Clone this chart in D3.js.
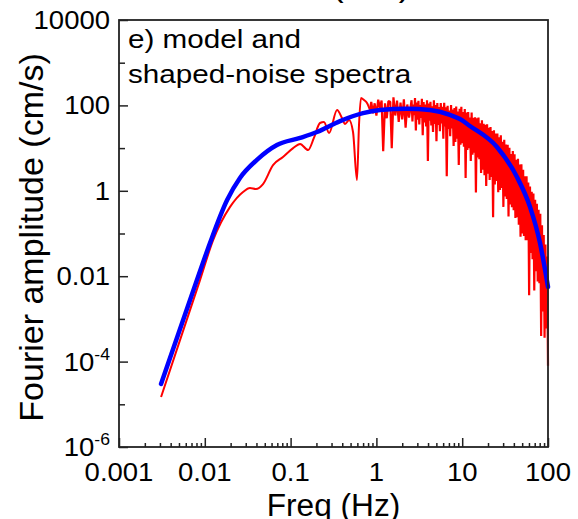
<!DOCTYPE html>
<html>
<head>
<meta charset="utf-8">
<script src="https://cdn.jsdelivr.net/npm/d3@7"></script>
<style>
  body { margin: 0; background: #fff; }
  text { font-family: Arial, "Liberation Sans", sans-serif; fill: #000; }
</style>
</head>
<body>
<div id="chart"></div>
<script>
// axes
const xDomain = [0.001, 100];
const yDomain = [1e-6, 1e4];
const xTickValues = [0.001, 0.01, 0.1, 1, 10, 100];
const xTickLabels = ["0.001", "0.01", "0.1", "1", "10", "100"];
const yTickValues = [1e4, 100, 1, 0.01, 1e-4, 1e-6];
const yTickBase = ["10000", "100", "1", "0.01", "10", "10"];
const yTickExp = ["", "", "", "", "-4", "-6"];
const yMinorValues = [1e3, 10, 0.1, 1e-3, 1e-5];

// model spectrum (blue)
const modelFreq = [0.00309, 0.0081, 0.0115, 0.0182, 0.0257, 0.0405, 0.0693, 0.129, 0.203, 0.377,
  0.698, 1.10, 2.27, 4.21, 7.21, 9.42, 12.3, 25.4, 43.5, 61.7, 80.7, 100];
const modelAmp = [3.0e-5, 8.1e-3, 0.060, 0.61, 2.0, 5.3, 11.8, 17.3, 23.8, 43,
  66, 78, 84, 78, 60, 48, 33, 10.6, 2.1, 0.42, 0.060, 0.0056];

// shaped-noise spectrum (red), low frequencies
const noiseLowFreq = [0.00309, 0.00879, 0.0125, 0.0197, 0.0279, 0.0336, 0.0395, 0.0477, 0.0624, 0.0815,
  0.107, 0.129, 0.160, 0.187, 0.220, 0.245, 0.281, 0.348, 0.397, 0.431,
  0.480, 0.534, 0.594, 0.627, 0.661, 0.717, 0.777, 0.842];
const noiseLowAmp = [1.48e-5, 8.1e-3, 0.070, 0.42, 0.94, 1.16, 1.10, 1.44, 4.0, 6.2,
  10.0, 12.5, 9.0, 17.3, 38.7, 40.9, 22.6, 78, 50.7, 36.7,
  45.5, 23.8, 1.79, 34.8, 149, 134, 114, 78];

// shaped-noise spectrum (red), noisy part
const noiseHighFreq = [0.871, 0.912, 0.955, 1.00, 1.05, 1.10, 1.15, 1.20, 1.26, 1.32,
  1.38, 1.45, 1.51, 1.58, 1.66, 1.74, 1.82, 1.91, 2.00, 2.09,
  2.19, 2.29, 2.40,
  2.570, 2.630, 2.692, 2.754, 2.818, 2.884, 2.951, 3.020, 3.090, 3.162,
  3.236, 3.311, 3.388, 3.467, 3.548, 3.631, 3.715, 3.802, 3.890, 3.981,
  4.074, 4.169, 4.266, 4.365, 4.467, 4.571, 4.677, 4.786, 4.898, 5.012,
  5.129, 5.248, 5.370, 5.495, 5.623, 5.754, 5.888, 6.026, 6.166, 6.310,
  6.457, 6.607, 6.761, 6.918, 7.079, 7.244, 7.413, 7.586, 7.762, 7.943,
  8.128, 8.318, 8.511, 8.710, 8.913, 9.120, 9.333, 9.550, 9.772, 10.00,
  10.23, 10.47, 10.72, 10.96, 11.22, 11.48, 11.75, 12.02, 12.30, 12.59,
  12.88, 13.18, 13.49, 13.80, 14.13, 14.45, 14.79, 15.14, 15.49, 15.85,
  16.22, 16.60, 16.98, 17.38, 17.78, 18.20, 18.62, 19.05, 19.50, 19.95,
  20.42, 20.89, 21.38, 21.88, 22.39, 22.91, 23.44, 23.99, 24.55, 25.12,
  25.70, 26.30, 26.92, 27.54, 28.18, 28.84, 29.51, 30.20, 30.90, 31.62,
  32.36, 33.11, 33.88, 34.67, 35.48, 36.31, 37.15, 38.02, 38.90, 39.81,
  40.74, 41.69, 42.66, 43.65, 44.67, 45.71, 46.77, 47.86, 48.98, 50.12,
  51.29, 52.48, 53.70, 54.95, 56.23, 57.54, 58.88, 60.26, 61.66, 63.10,
  64.57, 66.07, 67.61, 69.18, 70.79, 72.44, 74.13, 75.86, 77.62, 79.43,
  81.28, 83.18, 85.11, 87.10, 89.13, 91.20, 93.33, 95.50, 97.72, 100];
const noiseHighAmp = [120, 65, 112, 58, 136, 87, 130, 8.5, 112, 50,
  126, 122, 10, 155, 58, 129, 41, 116, 47, 138,
  30, 105, 52,
  132, 42, 105, 59, 148, 26, 117, 46, 129, 36,
  102, 51, 143, 20, 120, 40, 105, 32, 132, 5.0,
  110, 44, 122, 34, 95, 24, 132, 37, 102, 14.5,
  114, 35, 92, 25, 114, 38, 93, 16.6, 115, 32,
  90, 2.2, 98, 28, 76, 19, 102, 29, 80, 11.2,
  87, 14, 94, 16.6, 72, 4.0, 83, 12, 93, 13,
  70, 10.7, 82, 2.0, 68, 9, 70, 10, 52, 5.0,
  68, 7, 51, 7.8, 53, 0.91, 50, 6, 52, 5.5,
  38, 2.6, 45, 3.1, 37, 2.3, 35, 1.3, 36, 2.5,
  30, 1.8, 31, 2.1, 25, 0.24, 26, 1.4, 22, 1.7,
  22, 0.93, 18, 1.05, 20, 1.17, 14, 0.42, 15.7, 0.74,
  12.2, 0.64, 11.9, 0.25, 10.2, 0.48, 7.3, 0.41, 8.6, 0.35,
  7.2, 0.23, 5.3, 0.24, 5.6, 0.16, 4.1, 0.084, 4.2, 0.10,
  3.1, 0.087, 2.2, 0.07, 2.2, 0.07, 1.57, 0.0036, 1.26, 0.035,
  0.95, 0.025, 0.86, 0.0046, 0.62, 0.013, 0.50, 0.0075, 0.36, 0.0068,
  0.29, 4.0e-4, 0.155, 1.5e-3, 0.092, 3.6e-4, 0.055, 6e-4, 0.029, 8e-5];

const width = 578, height = 519;
const plot = { left: 119, right: 548, top: 20, bottom: 447 };

const svg = d3.select("#chart").append("svg")
  .attr("width", width)
  .attr("height", height);

const x = d3.scaleLog().domain(xDomain).range([plot.left, plot.right]);
const y = d3.scaleLog().domain(yDomain).range([plot.bottom, plot.top]);

function label(str, px, py, size, sx, anchor) {
  return svg.append("text")
    .attr("transform", `translate(${px},${py}) scale(${sx},1)`)
    .attr("text-anchor", anchor)
    .style("font-size", size + "px")
    .text(str);
}

// clipped title at the very top
label("Model (EW)", 410, -4, 31, 1.1, "end");

// curves
const line = d3.line().x(d => x(d[0])).y(d => y(d[1]));
const lowPts = noiseLowFreq.map((f, i) => [f, noiseLowAmp[i]]);
const highPts = [lowPts[lowPts.length - 1]].concat(noiseHighFreq.map((f, i) => [f, noiseHighAmp[i]]));
const modelPts = modelFreq.map((f, i) => [f, modelAmp[i]]);

const curves = svg.append("g").attr("fill", "none");
curves.append("path")
  .attr("d", line.curve(d3.curveMonotoneX)(lowPts))
  .attr("stroke", "#ff0000").attr("stroke-width", 2);
curves.append("path")
  .attr("d", line.curve(d3.curveLinear)(highPts))
  .attr("stroke", "#ff0000").attr("stroke-width", 2.2)
  .attr("stroke-linejoin", "bevel");
curves.append("path")
  .attr("d", line.curve(d3.curveMonotoneX)(modelPts))
  .attr("stroke", "#0000ff").attr("stroke-width", 4.5)
  .attr("stroke-linecap", "round");

// ticks (inward)
const xMinor = x.ticks().filter(v => !xTickValues.some(t => Math.abs(Math.log10(v / t)) < 1e-6));
const axes = svg.append("g").style("color", "#222");
axes.append("g").attr("transform", `translate(0,${plot.bottom})`)
  .call(d3.axisBottom(x).tickValues(xMinor).tickSize(-4).tickSizeOuter(0).tickFormat(""));
axes.append("g").attr("transform", `translate(0,${plot.bottom})`)
  .call(d3.axisBottom(x).tickValues(xTickValues).tickSize(-9).tickSizeOuter(0).tickFormat(""));
axes.append("g").attr("transform", `translate(${plot.left},0)`)
  .call(d3.axisLeft(y).tickValues(yMinorValues).tickSize(-6).tickSizeOuter(0).tickFormat(""));
axes.append("g").attr("transform", `translate(${plot.left},0)`)
  .call(d3.axisLeft(y).tickValues(yTickValues).tickSize(-9).tickSizeOuter(0).tickFormat(""));
axes.selectAll(".domain").remove();
axes.selectAll(".tick line").attr("stroke-width", 1.5);

svg.append("rect")
  .attr("x", plot.left).attr("y", plot.top)
  .attr("width", plot.right - plot.left).attr("height", plot.bottom - plot.top)
  .attr("fill", "none").attr("stroke", "#222").attr("stroke-width", 1.8);

// tick labels
xTickValues.forEach((v, i) => label(xTickLabels[i], x(v), 481, 25, 1.1, "middle"));
yTickValues.forEach((v, i) => {
  const t = svg.append("text")
    .attr("transform", `translate(110,${y(v) + 9}) scale(1.1,1)`)
    .attr("text-anchor", "end")
    .style("font-size", "25px")
    .text(yTickBase[i]);
  if (yTickExp[i]) {
    t.append("tspan").attr("dy", -11).style("font-size", "16px").text(yTickExp[i]);
  }
});

// annotation
label("e) model and", 128, 48, 26, 1.14, "start");
label("shaped-noise spectra", 128, 83, 26, 1.14, "start");

// axis titles
label("Freq (Hz)", (plot.left + plot.right) / 2, 516, 31, 1.02, "middle");
svg.append("text")
  .attr("transform", `translate(43,${(plot.top + plot.bottom) / 2 + 4}) rotate(-90)`)
  .attr("text-anchor", "middle")
  .style("font-size", "34px")
  .text("Fourier amplitude (cm/s)");
</script>
</body>
</html>
